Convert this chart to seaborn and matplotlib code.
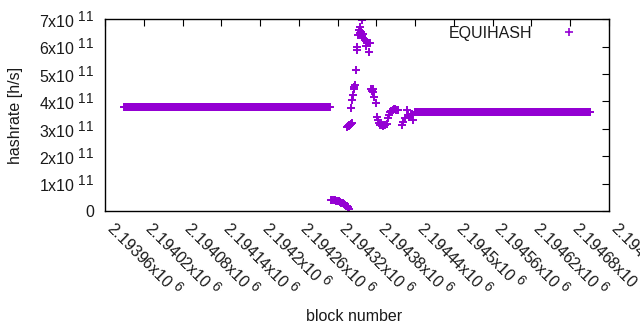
import numpy as np
import pandas as pd
import matplotlib
matplotlib.use("Agg")
import matplotlib.pyplot as plt
import matplotlib._mathtext as _mt
import seaborn as sns

# ---- data ----
# constant runs (one point per block)
run_start = [2193990, 2194440]
run_end = [2194308, 2194711]
run_value = [3.80e11, 3.61e11]

# individual points in the transition region
pt_block = [
    2194310, 2194312, 2194314, 2194316, 2194318, 2194320, 2194322, 2194324,
    2194326, 2194328, 2194330, 2194332, 2194334, 2194336, 2194338,
    2194335, 2194336, 2194337, 2194338, 2194339, 2194340, 2194341, 2194342,
    2194341, 2194342, 2194344, 2194345, 2194346, 2194347, 2194348, 2194350,
    2194350, 2194352, 2194353, 2194354, 2194355, 2194356, 2194357, 2194358,
    2194359, 2194360, 2194362, 2194364, 2194365, 2194366, 2194367, 2194368,
    2194369, 2194370,
    2194372, 2194373, 2194374, 2194375, 2194376, 2194379, 2194381, 2194382,
    2194384, 2194386, 2194388, 2194390, 2194392, 2194394, 2194396, 2194398,
    2194400, 2194401, 2194403, 2194405, 2194407, 2194409, 2194411, 2194413,
    2194420, 2194421, 2194424, 2194427, 2194429, 2194431, 2194433, 2194435,
    2194437,
]
pt_value_e11 = [
    0.41, 0.41, 0.40, 0.39, 0.38, 0.37, 0.35, 0.33,
    0.31, 0.29, 0.26, 0.23, 0.19, 0.14, 0.06,
    3.07, 3.09, 3.11, 3.13, 3.15, 3.17, 3.19, 3.21,
    3.76, 4.05, 4.24, 4.45, 4.52, 4.60, 5.15, 5.88,
    5.99, 6.43, 6.61, 6.50, 6.72, 6.55, 6.97, 6.40,
    6.32, 6.48, 6.24, 6.02, 6.13, 6.18, 6.15, 5.80,
    6.12, 6.13,
    4.45, 4.40, 4.35, 4.45, 4.16, 3.94, 3.43, 3.32,
    3.22, 3.15, 3.13, 3.12, 3.13, 3.14, 3.18, 3.40,
    3.52, 3.61, 3.66, 3.70, 3.72, 3.72, 3.70, 3.68,
    3.14, 3.25, 3.40, 3.69, 3.50, 3.45, 3.52, 3.55,
    3.32,
]

x_ticks = [2193960, 2194020, 2194080, 2194140, 2194200, 2194260, 2194320,
           2194380, 2194440, 2194500, 2194560, 2194620, 2194680, 2194740]
x_tick_labels = ["2.19396", "2.19402", "2.19408", "2.19414", "2.1942", "2.19426",
                 "2.19432", "2.19438", "2.19444", "2.1945", "2.19456", "2.19462",
                 "2.19468", "2.19474"]
y_ticks = [0, 1e11, 2e11, 3e11, 4e11, 5e11, 6e11, 7e11]
y_tick_mant = ["0", "1", "2", "3", "4", "5", "6", "7"]

series_name = "EQUIHASH"
color = "#9400d3"

# ---- build table ----
blocks = []
values = []
for s, e, v in zip(run_start, run_end, run_value):
    b = np.arange(s, e + 1)
    blocks.extend(b.tolist())
    values.extend([v] * len(b))
blocks.extend(pt_block)
values.extend([v * 1e11 for v in pt_value_e11])
df = pd.DataFrame({"block number": blocks, "hashrate": values, "series": series_name})

# ---- plot ----
sns.set_style("white")
plt.rcParams["font.family"] = ["Liberation Sans", "DejaVu Sans"]
plt.rcParams["mathtext.fontset"] = "custom"
plt.rcParams["mathtext.rm"] = "Liberation Sans"
plt.rcParams["mathtext.it"] = "Liberation Sans:italic"
plt.rcParams["mathtext.bf"] = "Liberation Sans:bold"
# gnuplot-like larger superscripts
_mt.SHRINK_FACTOR = 0.85

FS = 11.5
TXT = "#1a1a1a"

fig = plt.figure(figsize=(6.4, 3.3), dpi=100)
ax = fig.add_axes([105 / 640, 1 - 211 / 330, 504 / 640, 191.7 / 330])

sns.scatterplot(data=df, x="block number", y="hashrate", marker="+", s=30,
                color=color, linewidth=1.4, ax=ax, legend=False)

ax.set_xlim(x_ticks[0], x_ticks[-1])
ax.set_ylim(0, 7e11)

ax.set_xticks(x_ticks)
ax.set_xticklabels([f"{t}x10$^{{\\ 6}}$" for t in x_tick_labels],
                   rotation=-45, ha="left", va="baseline", rotation_mode="anchor",
                   fontsize=FS)
ax.set_yticks(y_ticks)
ax.set_yticklabels([m if m == "0" else f"{m}x10$^{{\\ 11}}$" for m in y_tick_mant],
                   fontsize=FS)

ax.tick_params(axis="both", direction="in", length=5, width=0.8,
               top=True, right=True, labeltop=False, labelright=False,
               colors="black", labelcolor=TXT)
ax.tick_params(axis="x", pad=13.5)
ax.tick_params(axis="y", pad=8)
for sp in ax.spines.values():
    sp.set_visible(True)
    sp.set_color("black")
    sp.set_linewidth(1.0)

ax.set_xlabel("block number", fontsize=FS, color=TXT)
ax.xaxis.set_label_coords(0.495, -0.51)
ax.set_ylabel("hashrate [h/s]", fontsize=FS, color=TXT)
ax.yaxis.set_label_coords(-0.163, 0.5)

# legend (gnuplot-style: text then marker, no frame)
handle = plt.Line2D([], [], linestyle="none", marker="+", markersize=6,
                    markeredgewidth=1.2, color=color)
leg = ax.legend([handle], [series_name], loc="upper right", frameon=False,
                markerfirst=False, fontsize=FS, handlelength=2.5,
                handletextpad=1.0, borderaxespad=0.0,
                bbox_to_anchor=(0.972, 1.0))
for t in leg.get_texts():
    t.set_color(TXT)

fig.savefig("out.png", dpi=100)
